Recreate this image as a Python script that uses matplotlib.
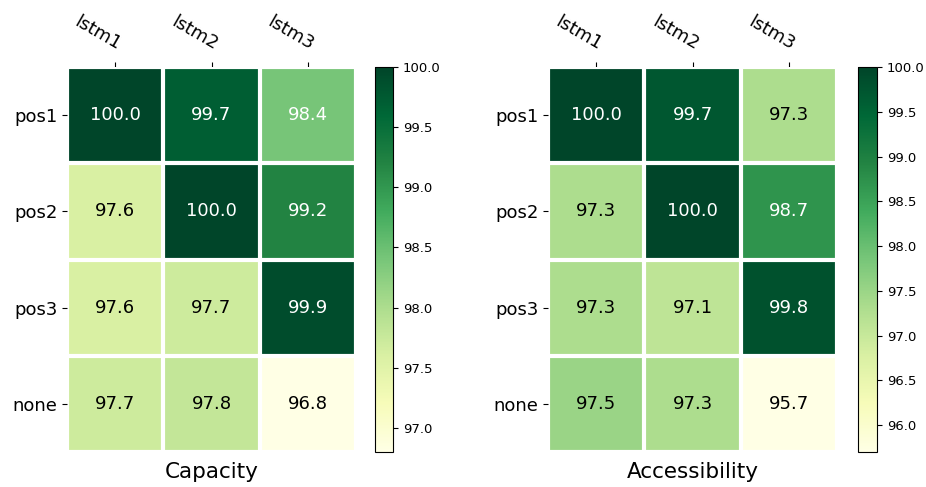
import numpy as np
import matplotlib
matplotlib.use("Agg")
import matplotlib.pyplot as plt

rows = ["pos1", "pos2", "pos3", "none"]
cols = ["lstm1", "lstm2", "lstm3"]

capacity = np.array([
    [100.0, 99.7, 98.4],
    [97.6, 100.0, 99.2],
    [97.6, 97.7, 99.9],
    [97.7, 97.8, 96.8],
])
accessibility = np.array([
    [100.0, 99.7, 97.3],
    [97.3, 100.0, 98.7],
    [97.3, 97.1, 99.8],
    [97.5, 97.3, 95.7],
])

W, H = 926, 487
fig = plt.figure(figsize=(W / 100, H / 100), dpi=100)


def px_axes(x0, y0, x1, y1):
    return fig.add_axes([x0 / W, 1 - y1 / H, (x1 - x0) / W, (y1 - y0) / H])


def heatmap(ax, cax, data, title):
    im = ax.imshow(data, cmap="YlGn", aspect="auto")
    cb = fig.colorbar(im, cax=cax)
    cb.ax.tick_params(labelsize=9.5)
    cb.outline.set_linewidth(0.8)

    ax.set_xticks(np.arange(len(cols)), labels=cols, fontsize=13)
    ax.set_yticks(np.arange(len(rows)), labels=rows, fontsize=13)
    ax.tick_params(top=True, bottom=False, labeltop=True, labelbottom=False)
    ax.tick_params(axis="x", pad=6)
    plt.setp(ax.get_xticklabels(), rotation=-30, ha="right", rotation_mode="anchor")
    for s in ax.spines.values():
        s.set_visible(False)

    ax.set_xticks(np.arange(data.shape[1] + 1) - 0.5, minor=True)
    ax.set_yticks(np.arange(data.shape[0] + 1) - 0.5, minor=True)
    ax.grid(which="minor", color="w", linestyle="-", linewidth=3)
    ax.tick_params(which="minor", bottom=False, left=False, top=False)

    thresh = im.norm(data.max()) / 2.0
    for i in range(data.shape[0]):
        for j in range(data.shape[1]):
            color = "white" if im.norm(data[i, j]) >= thresh - 0.01 else "black"
            ax.text(j, i, f"{data[i, j]:.1f}", ha="center", va="center",
                    color=color, fontsize=13)

    ax.set_xlabel(title, fontsize=15.5, labelpad=2)


ax1 = px_axes(67, 67, 356, 452)
cax1 = px_axes(375, 67, 393, 452)
ax2 = px_axes(548, 67, 837, 452)
cax2 = px_axes(858, 67, 877, 452)

heatmap(ax1, cax1, capacity, "Capacity")
heatmap(ax2, cax2, accessibility, "Accessibility")

fig.savefig("out.png", dpi=100)
